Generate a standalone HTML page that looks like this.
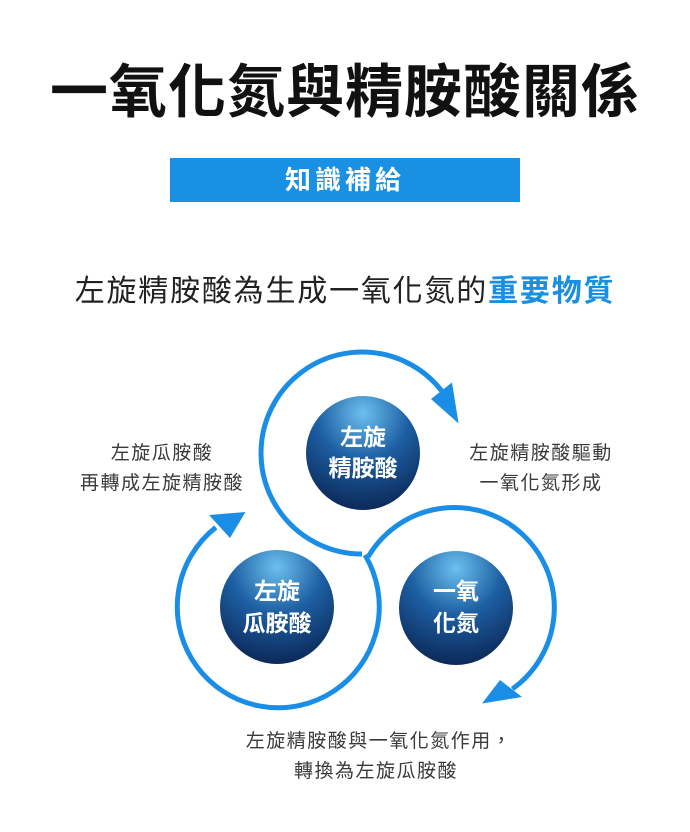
<!DOCTYPE html>
<html><head><meta charset="utf-8"><style>
html,body{margin:0;padding:0;background:#fff;}
body{width:690px;height:832px;position:relative;overflow:hidden;font-family:"Liberation Sans","Noto Sans CJK TC",sans-serif;}
.t{position:absolute;white-space:nowrap;}
</style></head><body>
<div class="t" style="left:0;width:690px;top:58px;text-align:center;font-size:58px;font-weight:bold;color:#111;line-height:70px;letter-spacing:1px;">一氧化氮與精胺酸關係</div>
<div class="t" style="left:170px;top:158px;width:350px;height:44px;background:#1a90e2;color:#fff;text-align:center;font-size:26px;font-weight:bold;line-height:44px;letter-spacing:4px;">知識補給</div>
<div class="t" style="left:0;width:690px;top:272px;text-align:center;font-size:30px;color:#222;line-height:40px;letter-spacing:1.8px;">左旋精胺酸為生成一氧化氮的<span style="color:#1a8ee0;font-weight:bold;">重要物質</span></div>

<svg width="690" height="832" style="position:absolute;left:0;top:0;">
<defs>
<radialGradient id="g" cx="0.5" cy="0.15" r="0.9">
<stop offset="0" stop-color="#6cc0ee"/>
<stop offset="0.45" stop-color="#1d5fa3"/>
<stop offset="1" stop-color="#0a2350"/>
</radialGradient>
</defs>
<g fill="none" stroke="#1a8ee6" stroke-width="5">
<path d="M362 554 A101 101 0 1 1 441.6 390.8"/>
<path d="M365 555 A101 101 0 1 1 215.8 527.4"/>
<path d="M368 557 A100 100 0 1 1 512.4 688.9"/>
</g>
<g fill="#1a8ee6">
<polygon points="458.6,423.5 452,382.5 431,399"/>
<polygon points="245.5,512 209,515 230,538"/>
<polygon points="482,703.5 500,680 522,697"/>
</g>
<circle cx="363" cy="453" r="57" fill="url(#g)"/>
<circle cx="277" cy="607" r="57" fill="url(#g)"/>
<circle cx="456" cy="608" r="57" fill="url(#g)"/>
<g fill="#fff" font-family="Liberation Sans,Noto Sans CJK TC,sans-serif" font-size="23" font-weight="bold" text-anchor="middle">
<text x="363" y="445">左旋</text><text x="363" y="476">精胺酸</text>
<text x="277" y="599">左旋</text><text x="277" y="631">瓜胺酸</text>
<text x="456" y="599">一氧</text><text x="456" y="631">化氮</text>
</g>
<g fill="#3a3a3a" font-family="Liberation Sans,Noto Sans CJK TC,sans-serif" font-size="19" letter-spacing="1.5" text-anchor="middle">
<text x="162" y="459">左旋瓜胺酸</text><text x="162" y="489">再轉成左旋精胺酸</text>
<text x="541" y="459">左旋精胺酸驅動</text><text x="541" y="489">一氧化氮形成</text>
<text x="379" y="747">左旋精胺酸與一氧化氮作用，</text><text x="376" y="777">轉換為左旋瓜胺酸</text>
</g>
</svg>
</body></html>
